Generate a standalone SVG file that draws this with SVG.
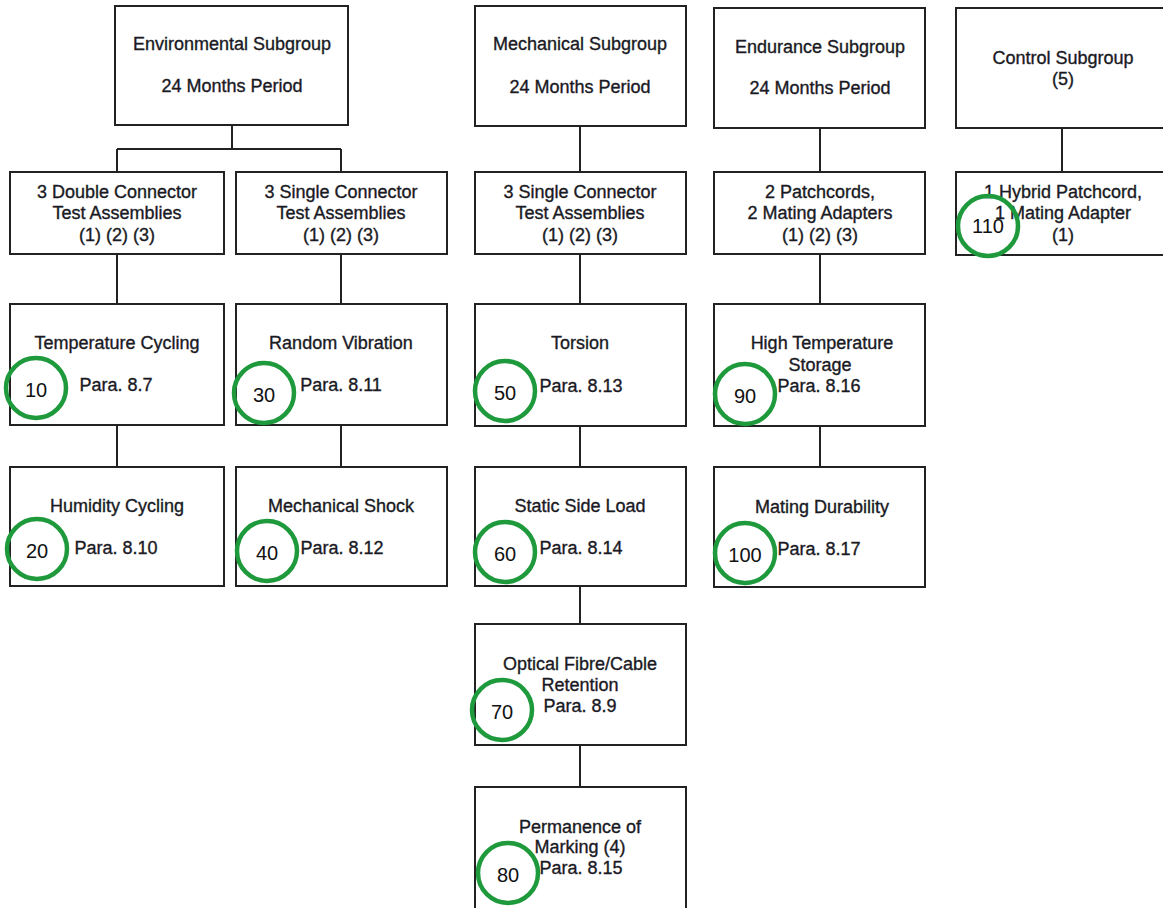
<svg xmlns="http://www.w3.org/2000/svg" width="1163" height="908" viewBox="0 0 1163 908">
<style>
.box{fill:#fff;stroke:#222;stroke-width:2}
.t{font-family:"Liberation Sans",Arial,sans-serif;font-size:18px;fill:#1a1a24;stroke:#1a1a24;stroke-width:0.35;text-anchor:middle}
.c{fill:none;stroke:#1e9a3c;stroke-width:4.5}
.n{font-family:"Liberation Sans",Arial,sans-serif;font-size:20px;fill:#111;text-anchor:middle}
.ln{stroke:#222;stroke-width:2;fill:none}
</style>
<rect width="1163" height="908" fill="#fff"/>
<g id="connectors">
<path class="ln" d="M232 125V149M117 149H341M117 149V172M341 149V172M117 254V304M341 254V304M117 425V467M341 425V467"/>
<path class="ln" d="M580 126V172M580 254V304M580 426V467M580 586V624M580 745V787"/>
<path class="ln" d="M820 128V172M820 254V304M820 426V467"/>
<path class="ln" d="M1062 128V172"/>
</g>
<g id="env">
<rect class="box" x="115" y="6" width="233" height="119"/>
<text class="t" x="232" y="50">Environmental Subgroup</text>
<text class="t" x="232" y="92">24 Months Period</text>
</g>
<g id="mech">
<rect class="box" x="475" y="6" width="211" height="120"/>
<text class="t" x="580" y="50">Mechanical Subgroup</text>
<text class="t" x="580" y="93">24 Months Period</text>
</g>
<g id="endu">
<rect class="box" x="714" y="8" width="211" height="120"/>
<text class="t" x="820" y="53">Endurance Subgroup</text>
<text class="t" x="820" y="94">24 Months Period</text>
</g>
<g id="ctrl">
<rect class="box" x="956" y="8" width="214" height="120"/>
<text class="t" x="1063" y="64">Control Subgroup</text>
<text class="t" x="1063" y="85">(5)</text>
</g>
<g id="dbl">
<rect class="box" x="10" y="172" width="214" height="82"/>
<text class="t" x="117" y="198">3 Double Connector</text>
<text class="t" x="117" y="219">Test Assemblies</text>
<text class="t" x="117" y="241">(1) (2) (3)</text>
</g>
<g id="sgl1">
<rect class="box" x="236" y="172" width="211" height="82"/>
<text class="t" x="341" y="198">3 Single Connector</text>
<text class="t" x="341" y="219">Test Assemblies</text>
<text class="t" x="341" y="241">(1) (2) (3)</text>
</g>
<g id="sgl2">
<rect class="box" x="475" y="172" width="211" height="82"/>
<text class="t" x="580" y="198">3 Single Connector</text>
<text class="t" x="580" y="219">Test Assemblies</text>
<text class="t" x="580" y="241">(1) (2) (3)</text>
</g>
<g id="patch">
<rect class="box" x="714" y="172" width="211" height="82"/>
<text class="t" x="820" y="198">2 Patchcords,</text>
<text class="t" x="820" y="219">2 Mating Adapters</text>
<text class="t" x="820" y="241">(1) (2) (3)</text>
</g>
<g id="hybrid">
<rect class="box" x="956" y="172" width="214" height="83"/>
<text class="t" x="1063" y="198">1 Hybrid Patchcord,</text>
<text class="t" x="1063" y="219">1 Mating Adapter</text>
<text class="t" x="1063" y="241">(1)</text>
<circle class="c" cx="988" cy="226" r="30"/>
<text class="n" x="988" y="233">110</text>
</g>
<g id="temp">
<rect class="box" x="10" y="304" width="214" height="121"/>
<text class="t" x="117" y="349">Temperature Cycling</text>
<text class="t" x="116" y="391">Para. 8.7</text>
<circle class="c" cx="36" cy="388" r="30"/>
<text class="n" x="36" y="397">10</text>
</g>
<g id="hum">
<rect class="box" x="10" y="467" width="214" height="119"/>
<text class="t" x="117" y="512">Humidity Cycling</text>
<text class="t" x="116" y="554">Para. 8.10</text>
<circle class="c" cx="37" cy="549" r="30"/>
<text class="n" x="37" y="558">20</text>
</g>
<g id="vib">
<rect class="box" x="236" y="304" width="211" height="121"/>
<text class="t" x="341" y="349">Random Vibration</text>
<text class="t" x="341" y="391">Para. 8.11</text>
<circle class="c" cx="264" cy="393" r="30"/>
<text class="n" x="264" y="402">30</text>
</g>
<g id="shock">
<rect class="box" x="236" y="467" width="211" height="119"/>
<text class="t" x="341" y="512">Mechanical Shock</text>
<text class="t" x="342" y="554">Para. 8.12</text>
<circle class="c" cx="267" cy="551" r="30"/>
<text class="n" x="267" y="560">40</text>
</g>
<g id="tors">
<rect class="box" x="475" y="304" width="211" height="122"/>
<text class="t" x="580" y="349">Torsion</text>
<text class="t" x="581" y="392">Para. 8.13</text>
<circle class="c" cx="505" cy="391" r="30"/>
<text class="n" x="505" y="400">50</text>
</g>
<g id="side">
<rect class="box" x="475" y="467" width="211" height="119"/>
<text class="t" x="580" y="512">Static Side Load</text>
<text class="t" x="581" y="554">Para. 8.14</text>
<circle class="c" cx="505" cy="552" r="30"/>
<text class="n" x="505" y="561">60</text>
</g>
<g id="optic">
<rect class="box" x="475" y="624" width="211" height="121"/>
<text class="t" x="580" y="670">Optical Fibre/Cable</text>
<text class="t" x="580" y="691">Retention</text>
<text class="t" x="580" y="712">Para. 8.9</text>
<circle class="c" cx="502" cy="710" r="30"/>
<text class="n" x="502" y="719">70</text>
</g>
<g id="perm">
<rect class="box" x="475" y="787" width="211" height="124"/>
<text class="t" x="580" y="833">Permanence of</text>
<text class="t" x="580" y="853">Marking (4)</text>
<text class="t" x="581" y="874">Para. 8.15</text>
<circle class="c" cx="508" cy="873" r="30"/>
<text class="n" x="508" y="882">80</text>
</g>
<g id="htemp">
<rect class="box" x="714" y="304" width="211" height="122"/>
<text class="t" x="822" y="349">High Temperature</text>
<text class="t" x="820" y="371">Storage</text>
<text class="t" x="819" y="392">Para. 8.16</text>
<circle class="c" cx="745" cy="394" r="30"/>
<text class="n" x="745" y="403">90</text>
</g>
<g id="mate">
<rect class="box" x="714" y="467" width="211" height="120"/>
<text class="t" x="822" y="513">Mating Durability</text>
<text class="t" x="819" y="555">Para. 8.17</text>
<circle class="c" cx="745" cy="553" r="30"/>
<text class="n" x="745" y="562">100</text>
</g>
</svg>
